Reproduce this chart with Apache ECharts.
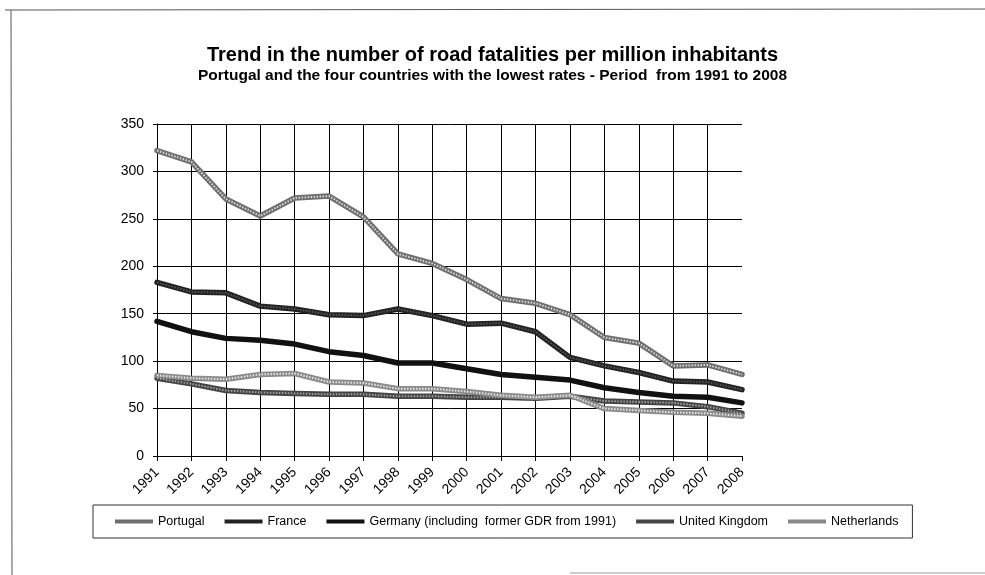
<!DOCTYPE html>
<html>
<head>
<meta charset="utf-8">
<script src="https://cdn.jsdelivr.net/npm/echarts@6/dist/echarts.min.js"></script>
<style>
  html, body { margin: 0; padding: 0; background: #fff; }
  #chart { width: 985px; height: 575px; }
</style>
</head>
<body>
<div id="chart"></div>
<script>
// Road fatalities per million inhabitants, 1991-2008
const years = ['1991','1992','1993','1994','1995','1996','1997','1998','1999',
               '2000','2001','2002','2003','2004','2005','2006','2007','2008'];
const portugal    = [322, 310, 271, 253, 272, 274, 252, 213, 203, 186, 166, 161, 149, 125, 119, 95, 96, 86];
const france      = [183, 173, 172, 158, 155, 149, 148, 155, 148, 139, 140, 131, 104, 95, 88, 79, 78, 70];
const germany     = [142, 131, 124, 122, 118, 110, 106, 98, 98, 92, 86, 83, 80, 72, 67, 63, 62, 56];
const uk          = [82, 76, 69, 67, 66, 65, 65, 63, 63, 62, 62, 61, 63, 58, 57, 56, 52, 45];
const netherlands = [85, 82, 81, 86, 87, 78, 77, 71, 71, 68, 64, 62, 64, 50, 48, 46, 45, 42];
const yTicks = [0, 50, 100, 150, 200, 250, 300, 350];

const names = ['Portugal', 'France', 'Germany (including  former GDR from 1991)',
               'United Kingdom', 'Netherlands'];

const FONT = '"Liberation Sans", Arial, sans-serif';

// base stroke + optional dotted inner stroke for a hatched look
function lineSeries(name, data, base, inner) {
  const out = [{
    name: name, type: 'line', data: data, showSymbol: false, symbol: 'none',
    lineStyle: { color: base, width: 5.5, cap: 'round', join: 'round' },
    itemStyle: { color: base },
    z: 3
  }];
  if (inner) {
    out.push({
      name: name, type: 'line', data: data, showSymbol: false, symbol: 'none',
      silent: true,
      lineStyle: { color: inner, width: 2, type: [1.5, 1.5], join: 'round' },
      itemStyle: { color: base },
      z: 4
    });
  }
  return out;
}

const chart = echarts.init(document.getElementById('chart'), null, { renderer: 'canvas' });

chart.setOption({
  backgroundColor: '#fff',
  animation: false,
  textStyle: { fontFamily: FONT },
  title: [
    {
      text: 'Trend in the number of road fatalities per million inhabitants',
      left: 'center', top: 40,
      textStyle: { fontFamily: FONT, fontSize: 20, fontWeight: 'bold', color: '#000' }
    },
    {
      text: 'Portugal and the four countries with the lowest rates - Period  from 1991 to 2008',
      left: 'center', top: 63,
      textStyle: { fontFamily: FONT, fontSize: 15.5, fontWeight: 'bold', color: '#000' }
    }
  ],
  grid: { left: 157, right: 243, top: 124, bottom: 119, containLabel: false },
  xAxis: {
    type: 'category', data: years, boundaryGap: false,
    axisLine: { show: true, lineStyle: { color: '#000', width: 1 } },
    axisTick: { show: true, length: 5, lineStyle: { color: '#000' } },
    axisLabel: { rotate: 45, fontSize: 14, color: '#000', margin: 14, fontFamily: FONT },
    splitLine: {
      show: true,
      interval: function (idx) { return idx > 0 && idx < years.length - 1; },
      lineStyle: { color: '#000', width: 1 }
    }
  },
  yAxis: {
    type: 'value', min: yTicks[0], max: yTicks[yTicks.length - 1], interval: 50,
    axisLine: { show: true, lineStyle: { color: '#000', width: 1 } },
    axisTick: { show: true, length: 4, lineStyle: { color: '#000' } },
    axisLabel: { fontSize: 14, color: '#000', margin: 13, fontFamily: FONT },
    splitLine: { show: true, lineStyle: { color: '#000', width: 1 } }
  },
  legend: {
    data: names,
    left: 93, top: 505,
    orient: 'horizontal',
    icon: 'rect', itemWidth: 38, itemHeight: 4, itemGap: 20,
    padding: [10, 14, 10, 22],
    borderColor: '#333', borderWidth: 1,
    textStyle: { fontSize: 12.5, color: '#000', fontFamily: FONT }
  },
  series: [].concat(
    lineSeries(names[0], portugal, '#6e6e6e', '#d8d8d8'),
    lineSeries(names[1], france, '#222', '#555'),
    lineSeries(names[2], germany, '#111', null),
    lineSeries(names[3], uk, '#444', '#a0a0a0'),
    lineSeries(names[4], netherlands, '#8a8a8a', '#e6e6e6')
  ),
  graphic: [
    { type: 'line', shape: { x1: 5, y1: 10, x2: 985, y2: 9 }, style: { stroke: '#555', lineWidth: 1 } },
    { type: 'line', shape: { x1: 11, y1: 10, x2: 12, y2: 575 }, style: { stroke: '#555', lineWidth: 1 } },
    { type: 'line', shape: { x1: 570, y1: 573, x2: 985, y2: 573 }, style: { stroke: '#999', lineWidth: 1 } }
  ]
});
</script>
</body>
</html>
